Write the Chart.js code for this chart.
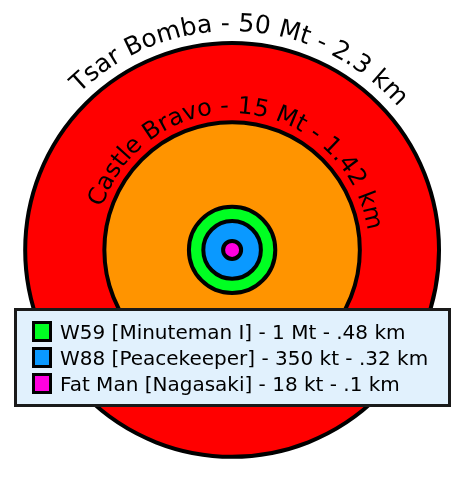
<!DOCTYPE html>
<html>
<head>
<meta charset="utf-8">
<script src="https://cdn.jsdelivr.net/npm/chart.js@4/dist/chart.umd.min.js"></script>
<style>
  html, body { margin: 0; padding: 0; background: #ffffff; }
  #wrap { width: 466px; height: 480px; }
</style>
</head>
<body>
<div id="wrap"><canvas id="c" width="466" height="480"></canvas></div>
<script>
// ---- data (drawn innermost first so the outermost ring sits underneath) ----
const names    = ['Fat Man [Nagasaki]', 'W88 [Peacekeeper]', 'W59 [Minuteman I]', 'Castle Bravo', 'Tsar Bomba'];
const yields   = ['18 kt', '350 kt', '1 Mt', '15 Mt', '50 Mt'];
const radiiKm  = [0.1, 0.32, 0.48, 1.42, 2.3];
const colors   = ['#ff00e0', '#0a99ff', '#00ff22', '#ff9400', '#ff0000'];
const legendItems = [2, 1, 0];   // indices shown in the legend box
const arcLabelItems = [4, 3];    // indices labelled along their circle

const fmtKm = v => String(v).replace(/^0\./, '.') + ' km';
const labelOf = i => names[i] + ' - ' + yields[i] + ' - ' + fmtKm(radiiKm[i]);

function kmToPx(chart, km) {
  const s = chart.scales.x;
  if (!s || !s.width) return 0;
  return Math.abs(s.getPixelForValue(km) - s.getPixelForValue(0));
}

const datasets = names.map((n, i) => ({
  label: labelOf(i),
  data: [{ x: 0, y: 0 }],
  backgroundColor: colors[i],
  borderColor: '#000000',
  borderWidth: 4,
  pointRadius: ctx => kmToPx(ctx.chart, radiiKm[ctx.datasetIndex]),
  pointHoverRadius: ctx => kmToPx(ctx.chart, radiiKm[ctx.datasetIndex]),
  pointBorderWidth: 4,
  pointHoverBorderWidth: 4,
  clip: false
}));

const FONT = '"DejaVu Sans", "Noto Sans", sans-serif';

const arcTextPlugin = {
  id: 'arcText',
  afterDatasetsDraw(chart) {
    const ctx = chart.ctx;
    const cx = chart.scales.x.getPixelForValue(0);
    const cy = chart.scales.y.getPixelForValue(0);
    const specs = { 4: { size: 25, gap: 12, center: 2 }, 3: { size: 24, gap: 9, center: 5 } };
    arcLabelItems.forEach(i => {
      const sp = specs[i];
      const text = labelOf(i);
      const r = kmToPx(chart, radiiKm[i]) + sp.gap;
      ctx.save();
      ctx.font = sp.size + 'px ' + FONT;
      ctx.fillStyle = '#000000';
      ctx.textAlign = 'center';
      ctx.textBaseline = 'alphabetic';
      const total = ctx.measureText(text).width;
      const centerAng = -Math.PI / 2 + sp.center * Math.PI / 180;
      const a = centerAng - total / (2 * r);
      let acc = 0;
      for (const ch of text) {
        const w = ctx.measureText(ch).width;
        const ang = a + (acc + w / 2) / r;
        ctx.save();
        ctx.translate(cx + r * Math.cos(ang), cy + r * Math.sin(ang));
        ctx.rotate(ang + Math.PI / 2);
        ctx.fillText(ch, 0, 0);
        ctx.restore();
        acc += w;
      }
      ctx.restore();
    });
  }
};

const legendBoxPlugin = {
  id: 'legendBox',
  afterDraw(chart) {
    const ctx = chart.ctx;
    const box = { x: 15.5, y: 309.5, w: 434, h: 96 };
    ctx.save();
    ctx.fillStyle = '#e1f1fd';
    ctx.fillRect(box.x, box.y, box.w, box.h);
    ctx.lineWidth = 3;
    ctx.strokeStyle = '#1a1a1a';
    ctx.strokeRect(box.x, box.y, box.w, box.h);
    ctx.font = '20px ' + FONT;
    ctx.textBaseline = 'alphabetic';
    legendItems.forEach((idx, row) => {
      const base = 339 + row * 26;
      ctx.fillStyle = colors[idx];
      ctx.fillRect(33, base - 17, 18, 19);
      ctx.lineWidth = 3;
      ctx.strokeStyle = '#000000';
      ctx.strokeRect(33.5, base - 16.5, 17, 18);
      ctx.fillStyle = '#000000';
      ctx.fillText(labelOf(idx), 60, base);
    });
    ctx.restore();
  }
};

new Chart(document.getElementById('c'), {
  type: 'scatter',
  data: { datasets },
  options: {
    responsive: false,
    animation: false,
    events: [],
    layout: { padding: 0, autoPadding: false },
    scales: {
      x: { type: 'linear', display: false, min: -2.58, max: 2.6 },
      y: { type: 'linear', display: false, min: -2.56, max: 2.78 }
    },
    plugins: { legend: { display: false }, tooltip: { enabled: false } }
  },
  plugins: [arcTextPlugin, legendBoxPlugin]
});
</script>
</body>
</html>
